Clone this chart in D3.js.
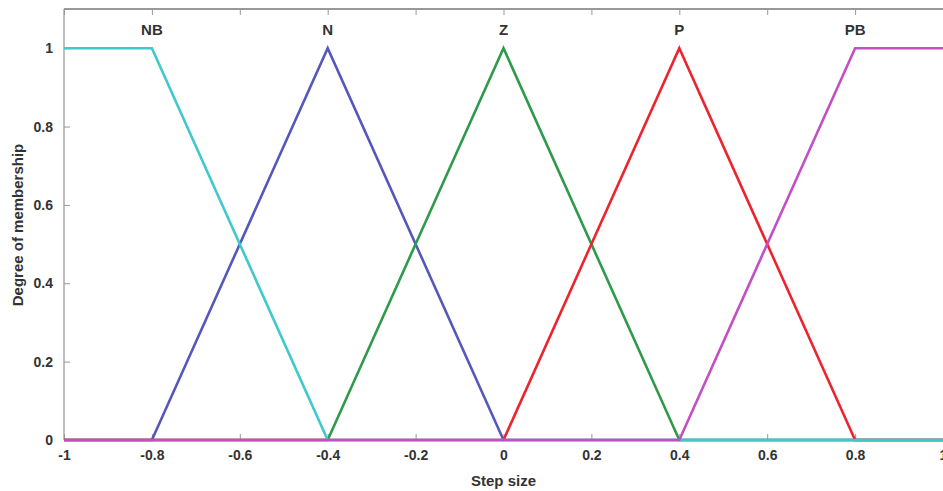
<!DOCTYPE html>
<html><head><meta charset="utf-8">
<script src="https://cdn.jsdelivr.net/npm/d3@7"></script>
<style>body{margin:0;background:#fff;} text{font-family:"Liberation Sans",Arial,sans-serif;font-weight:bold;}</style>
</head><body>
<svg id="c" width="943" height="491"></svg>
<script>
const xTicks = [-1,-0.8,-0.6,-0.4,-0.2,0,0.2,0.4,0.6,0.8,1];
const yTicks = [0,0.2,0.4,0.6,0.8,1];
const mfNames = ["NB","N","Z","P","PB"];
const mfPeaks = [-0.8,-0.4,0,0.4,0.8];
const xNB = [-1,-0.8,-0.4,1];   const yNB = [1,1,0,0];
const xN  = [-1,-0.8,-0.4,0,1]; const yN  = [0,0,1,0,0];
const xZ  = [-1,-0.4,0,0.4,1];  const yZ  = [0,0,1,0,0];
const xP  = [-1,0,0.4,0.8,1];   const yP  = [0,0,1,0,0];
const xPB = [-1,0.4,0.8,1];     const yPB = [0,0,1,1];
const colors = {NB:"#3fc9cc",N:"#5558bb",Z:"#2f9a4c",P:"#ec2430",PB:"#c24fc4"};

const svg = d3.select("#c");
const L=64, R=943, T=9, B=440;
const x = d3.scaleLinear().domain([-1,1]).range([L,R]);
const y = d3.scaleLinear().domain([0,1.1]).range([B,T]);

// box
svg.append("line").attr("x1",L).attr("x2",R).attr("y1",T).attr("y2",T).attr("stroke","#777").attr("stroke-width",1.5);
svg.append("line").attr("x1",L).attr("x2",L).attr("y1",T).attr("y2",B).attr("stroke","#aaa").attr("stroke-width",1.5);
svg.append("line").attr("x1",L).attr("x2",R).attr("y1",B).attr("y2",B).attr("stroke","#888").attr("stroke-width",1);

// axes
const xAx = svg.append("g").attr("transform",`translate(0,${B})`)
  .call(d3.axisBottom(x).tickValues(xTicks).tickSize(-6).tickPadding(10).tickFormat(d=>String(d)));
const xAxTop = svg.append("g").attr("transform",`translate(0,${T})`)
  .call(d3.axisTop(x).tickValues(xTicks).tickSize(-6).tickFormat(""));
const yAx = svg.append("g").attr("transform",`translate(${L},0)`)
  .call(d3.axisLeft(y).tickValues(yTicks).tickSize(-6).tickPadding(11).tickFormat(d=>String(d)));
[xAx,xAxTop,yAx].forEach(g=>{
  g.select(".domain").remove();
  g.selectAll(".tick line").attr("stroke","#999");
  g.selectAll("text").attr("fill","#333").style("font-size","14px").style("font-weight","bold")
    .style("font-family","'Liberation Sans',Arial,sans-serif");
});
xAx.selectAll("text").attr("dy","0.71em");

// lines: order chosen so overlaps match
const line = d3.line().x(d=>x(d[0])).y(d=>y(d[1]));
const series = [
  {k:"N",xs:xN,ys:yN},{k:"Z",xs:xZ,ys:yZ},{k:"P",xs:xP,ys:yP},
  {k:"NB",xs:xNB,ys:yNB},{k:"PB",xs:xPB,ys:yPB}
];
series.forEach(s=>{
  svg.append("path").datum(d3.zip(s.xs,s.ys)).attr("d",line)
    .attr("fill","none").attr("stroke",colors[s.k]).attr("stroke-width",2.6);
});

// MF labels
mfNames.forEach((n,i)=>{
  svg.append("text").attr("x",x(mfPeaks[i])).attr("y",35).attr("text-anchor","middle")
    .attr("fill","#333").style("font-size","15px").text(n);
});

// axis titles
svg.append("text").attr("x",x(0)).attr("y",486).attr("text-anchor","middle")
  .attr("fill","#333").style("font-size","15px").text("Step size");
svg.append("text").attr("transform","translate(23,225) rotate(-90)").attr("text-anchor","middle")
  .attr("fill","#333").style("font-size","15px").text("Degree of membership");
</script>
</body></html>
